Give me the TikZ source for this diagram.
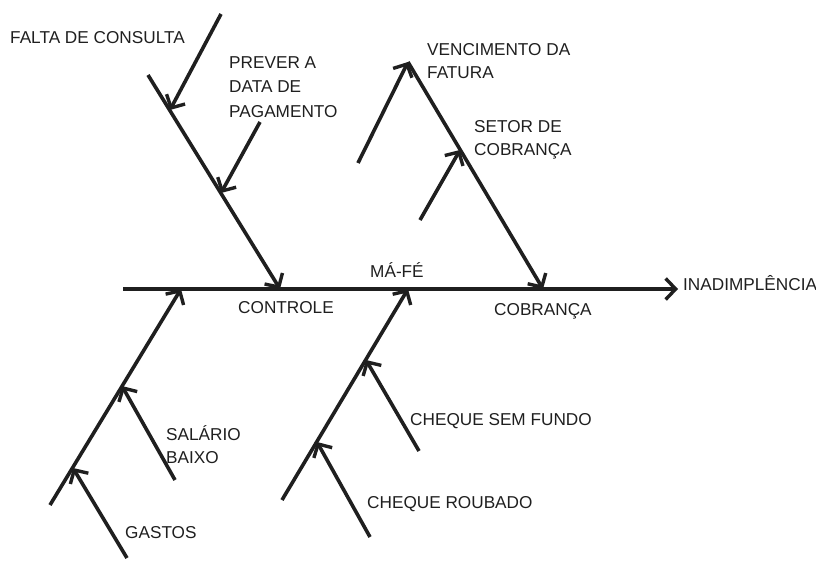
\documentclass[tikz,border=0pt]{standalone}
\usepackage{fontspec}
\setmainfont{Liberation Sans}
\usetikzlibrary{arrows.meta}
\begin{document}
\begin{tikzpicture}[x=1pt,y=-1pt,
  bone/.style={line width=3.6pt, color=black!88, -{Straight Barb[length=10pt,width=21pt,line width=3.4pt]}},
  lbl/.style={font=\fontsize{17.2}{23}\selectfont, inner sep=0pt, anchor=base west, text=black!88}]
\useasboundingbox (0,0) rectangle (816,560);
% coordinates
\coordinate (s0) at (123,289);
\coordinate (s1) at (678,289);
\coordinate (tl0) at (148,75);
\coordinate (tl1) at (280,289);
\coordinate (fc0) at (221,14);
\coordinate (fc1) at (170,110);
\coordinate (pv0) at (260,122);
\coordinate (pv1) at (221,193);
\coordinate (tr0) at (408,62);
\coordinate (tr1) at (543,289);
\coordinate (vf0) at (358,163);
\coordinate (st0) at (420,220);
\coordinate (st1) at (460,150);
\coordinate (bl0) at (50,505);
\coordinate (bl1) at (181,289);
\coordinate (sa0) at (175,480);
\coordinate (sa1) at (122,386);
\coordinate (ga0) at (127,558);
\coordinate (ga1) at (73,468);
\coordinate (bm0) at (282,500);
\coordinate (bm1) at (408,289);
\coordinate (cs0) at (419,451);
\coordinate (cs1) at (366,360);
\coordinate (cr0) at (370,537);
\coordinate (cr1) at (317,442);
% bones
\draw[bone] (s0) -- (s1);
\draw[bone] (tl0) -- (tl1);
\draw[bone] (fc0) -- (fc1);
\draw[bone] (pv0) -- (pv1);
\draw[bone] (tr0) -- (tr1);
\draw[bone] (vf0) -- (tr0);
\draw[bone] (st0) -- (st1);
\draw[bone] (bl0) -- (bl1);
\draw[bone] (sa0) -- (sa1);
\draw[bone] (ga0) -- (ga1);
\draw[bone] (bm0) -- (bm1);
\draw[bone] (cs0) -- (cs1);
\draw[bone] (cr0) -- (cr1);
% labels
\node[lbl] (t1) at (10,43) {FALTA DE CONSULTA};
\node[lbl] (t2) at (229,68) {PREVER A};
\node[lbl] (t3) at (229,92) {DATA DE};
\node[lbl] (t4) at (229,117) {PAGAMENTO};
\node[lbl] (t5) at (427,55) {VENCIMENTO DA};
\node[lbl] (t6) at (427,78) {FATURA};
\node[lbl] (t7) at (474,132) {SETOR DE};
\node[lbl] (t8) at (474,155) {COBRANÇA};
\node[lbl] (t9) at (370,277) {MÁ-FÉ};
\node[lbl] (t10) at (238,313) {CONTROLE};
\node[lbl] (t11) at (494,315) {COBRANÇA};
\node[lbl] (t12) at (683,290) {INADIMPLÊNCIA};
\node[lbl] (t13) at (166,440) {SALÁRIO};
\node[lbl] (t14) at (166,463) {BAIXO};
\node[lbl] (t15) at (125,538) {GASTOS};
\node[lbl] (t16) at (410,425) {CHEQUE SEM FUNDO};
\node[lbl] (t17) at (367,508) {CHEQUE ROUBADO};
\end{tikzpicture}
\end{document}
